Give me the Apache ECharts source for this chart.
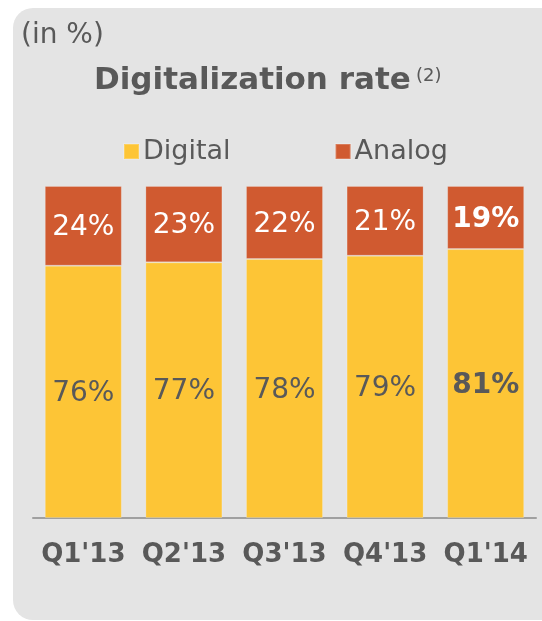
<!DOCTYPE html>
<html>
<head>
<meta charset="utf-8">
<script src="https://cdn.jsdelivr.net/npm/echarts@6/dist/echarts.min.js"></script>
<style>
  html, body { margin: 0; padding: 0; background: #fff; }
  #chart { width: 542px; height: 621px; }
</style>
</head>
<body>
<div id="chart"></div>
<script>
var quarters = ["Q1'13", "Q2'13", "Q3'13", "Q4'13", "Q1'14"];
var digital = [76, 77, 78, 79, 81];
var analog = [24, 23, 22, 21, 19];

var textGray = '#595959';
var font = 'DejaVu Sans';

// last quarter is highlighted with bold labels
var lastIdx = quarters.length - 1;

var box = echarts.init(document.getElementById('chart'));
var option = {
    animation: false,
    textStyle: { fontFamily: font },
    graphic: [
        {
            type: 'rect',
            left: 13, top: 8,
            shape: { width: 560, height: 612, r: 20 },
            style: { fill: '#e4e4e4' },
            z: -10
        },
        {
            type: 'text', left: 21, top: 22,
            style: { text: '(in %)', fill: textGray, font: '28px "DejaVu Sans"' }
        },
        {
            type: 'text', left: 94, top: 65,
            style: { text: 'Digitalization rate', fill: textGray, font: 'bold 31px "DejaVu Sans"' }
        },
        {
            type: 'text', left: 416, top: 67,
            style: { text: '(2)', fill: textGray, font: '18px "DejaVu Sans"' }
        }
    ],
    legend: {
        top: 138,
        left: 123,
        padding: 0,
        itemGap: 104,
        itemWidth: 15,
        itemHeight: 15,
        icon: 'rect',
        textStyle: { color: textGray, fontSize: 27, fontFamily: font, padding: [0, 0, 0, -1] },
        data: ['Digital', 'Analog']
    },
    grid: { left: 33, right: 6, top: 186, bottom: 103 },
    xAxis: {
        type: 'category',
        data: quarters,
        axisTick: { show: false },
        axisLine: { lineStyle: { color: '#a0a0a0', width: 2 } },
        axisLabel: { interval: 0, color: textGray, fontSize: 26, fontWeight: 'bold', margin: 24, fontFamily: font }
    },
    yAxis: {
        type: 'value', min: 0, max: 100, show: false,
        splitLine: { show: false }
    },
    series: [
        {
            name: 'Digital',
            type: 'bar',
            stack: 'total',
            barWidth: 77,
            itemStyle: { color: '#fdc536', borderColor: 'rgba(255,255,255,0.2)', borderWidth: 1 },
            label: {
                show: true, position: 'inside', offset: [0, 2], fontSize: 28, fontFamily: font,
                formatter: function (p) {
                    return p.dataIndex === lastIdx ? '{b|' + p.value + '%}' : p.value + '%';
                },
                color: textGray,
                rich: { b: { fontSize: 28, fontWeight: 'bold', color: textGray, fontFamily: font } }
            },
            data: digital
        },
        {
            name: 'Analog',
            type: 'bar',
            stack: 'total',
            barWidth: 77,
            itemStyle: { color: '#d05a30', borderColor: 'rgba(255,255,255,0.2)', borderWidth: 1 },
            label: {
                show: true, position: 'inside', offset: [0, 2], fontSize: 28, fontFamily: font,
                formatter: function (p) {
                    return p.dataIndex === lastIdx ? '{b|' + p.value + '%}' : p.value + '%';
                },
                color: '#fff',
                rich: { b: { fontSize: 28, fontWeight: 'bold', color: '#fff', fontFamily: font } }
            },
            data: analog
        }
    ]
};
box.setOption(option);
</script>
</body>
</html>
